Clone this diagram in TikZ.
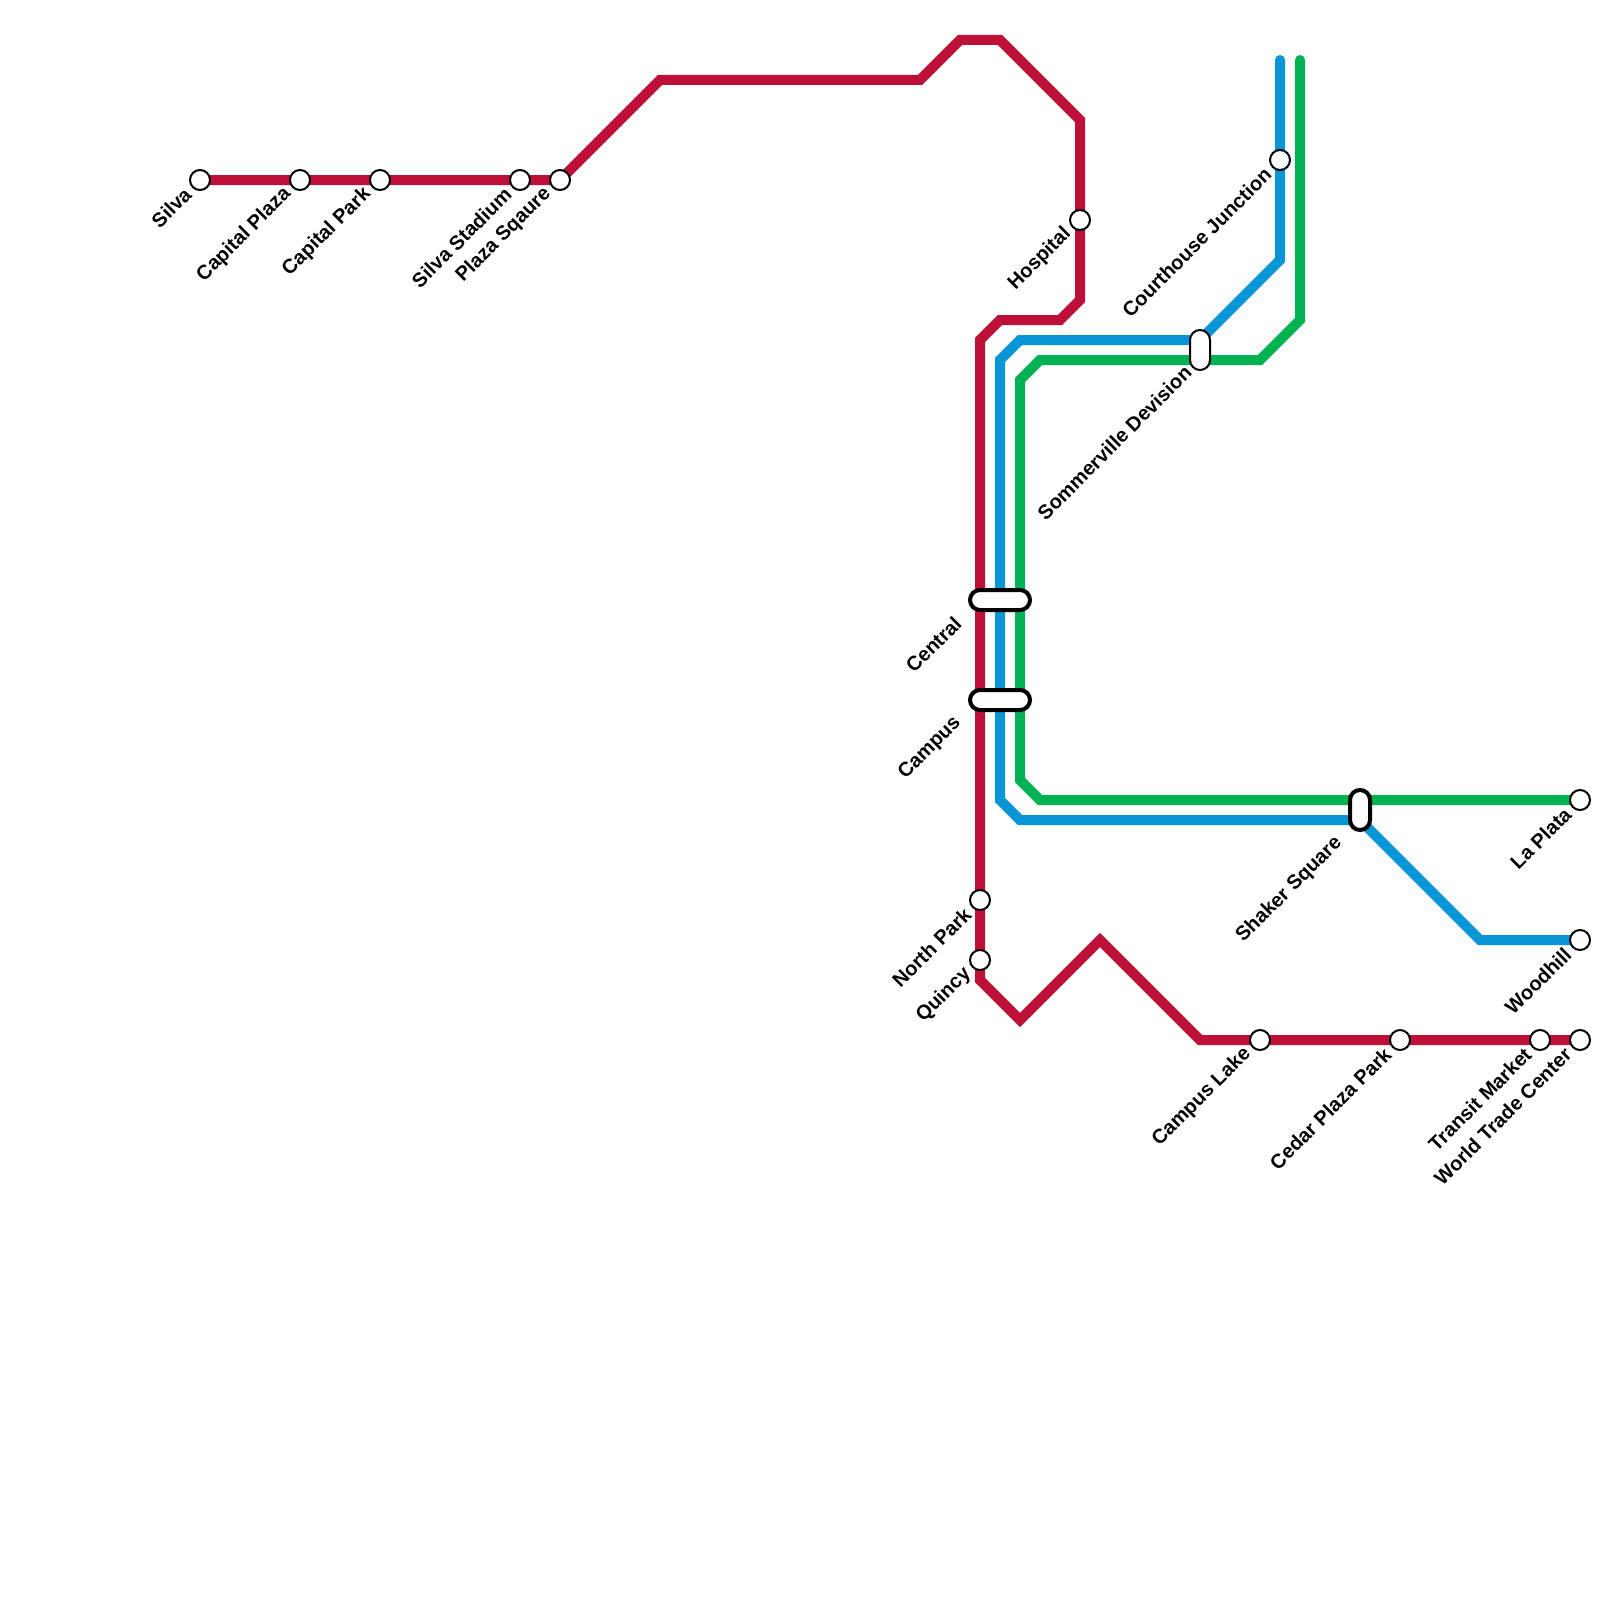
\documentclass[tikz,border=0pt]{standalone}
\usepackage{fontspec}
\setmainfont{Liberation Sans}
\usetikzlibrary{backgrounds,calc}
\definecolor{redline}{HTML}{BD1038}
\definecolor{blueline}{HTML}{0896D7}
\definecolor{greenline}{HTML}{00B251}
\tikzset{
	stn/.style={circle, draw=black, fill=white, line width=2pt, minimum size=20pt, inner sep=0pt, outer sep=0pt},
	xfer/.style={rectangle, draw=black, fill=white, line width=4pt, rounded corners=10pt, inner sep=0pt, outer sep=0pt},
	xferthin/.style={xfer, line width=2pt},
	stnname/.style={anchor=east, rotate=45, inner sep=0pt, font=\fontsize{20}{20}\selectfont\bfseries},
	metro/.style={line width=10pt, line join=miter, line cap=round},
}
\begin{document}
\begin{tikzpicture}[x=1pt, y=-1pt]
	\useasboundingbox (0, 0) rectangle (1600, 1600);
	\foreach \n/\px/\py/\t in {silva/200/180/Silva, capplaza/300/180/Capital Plaza, cappark/380/180/Capital Park,
		stadium/520/180/Silva Stadium, sqaure/560/180/Plaza Sqaure, hospital/1080/220/Hospital,
		courthouse/1280/160/Courthouse Junction, npark/980/900/North Park, quincy/980/960/Quincy,
		lake/1260/1040/Campus Lake, cedar/1400/1040/Cedar Plaza Park, transit/1540/1040/Transit Market,
		wtc/1580/1040/World Trade Center, woodhill/1580/940/Woodhill, laplata/1580/800/La Plata}
	{
		\node[stn] (\n) at (\px, \py) {};
		\node[stnname] (\n text) at ($(\n.south west)+(-5, 4)$) {\t};
	}
	\node[xfer, minimum width=60pt, minimum height=20pt] (central) at (1000, 600) {};
	\node[xfer, minimum width=60pt, minimum height=20pt] (campus) at (1000, 700) {};
	\node[xfer, minimum width=20pt, minimum height=40pt] (shaker) at (1360, 810) {};
	\node[xferthin, minimum width=20pt, minimum height=40pt] (sommer) at (1200, 350) {};
	\node[stnname] (central text) at ($(central.south west)+(-12, 10)$) {Central};
	\node[stnname] (campus text) at ($(campus.south west)+(-12, 10)$) {Campus};
	\node[stnname] (shaker text) at ($(shaker.south west)+(-11, 10)$) {Shaker Square};
	\node[stnname] (sommer text) at ($(sommer.south west)+(-2, -1)$) {Sommerville Devision};
	\begin{scope}[on background layer]
		\draw[metro, redline] (silva.center) -- (sqaure.center) -- (660, 80) -- (920, 80) -- (960, 40) -- (1000, 40)
			-- (1080, 120) -- (1080, 300) -- (1060, 320) -- (1000, 320) -- (980, 340) -- (980, 980)
			-- (1020, 1020) -- (1100, 940) -- (1200, 1040) -- (wtc.center);
		\draw[metro, blueline] (1280, 60) -- (1280, 260) -- (1200, 340) -- (1020, 340) -- (1000, 360) -- (1000, 800)
			-- (1020, 820) -- (1360, 820) -- (1480, 940) -- (woodhill.center);
		\draw[metro, greenline] (1300, 60) -- (1300, 320) -- (1260, 360) -- (1040, 360) -- (1020, 380) -- (1020, 780)
			-- (1040, 800) -- (laplata.center);
	\end{scope}
\end{tikzpicture}
\end{document}
